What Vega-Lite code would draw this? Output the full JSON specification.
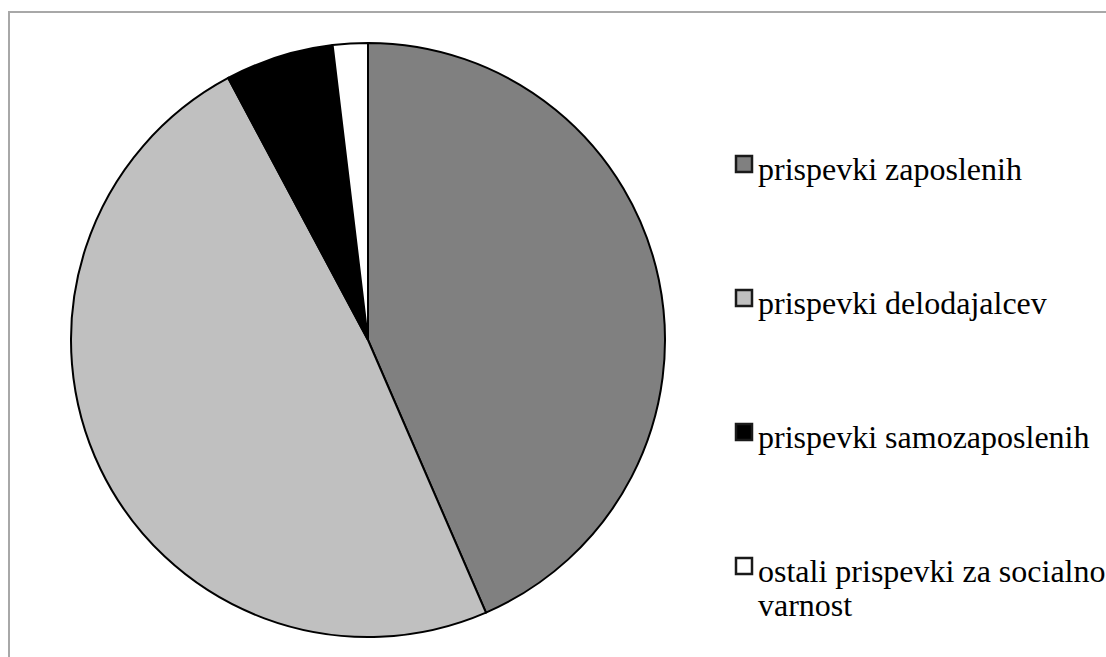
{
  "$schema": "https://vega.github.io/schema/vega-lite/v6.json",
  "autosize": "none",
  "width": 1100,
  "height": 648,
  "padding": {"left": 9, "top": 12, "right": -3, "bottom": -3},
  "background": "white",
  "view": {"stroke": "#a8a8a8", "strokeWidth": 2, "fill": "white"},
  "config": {
    "view": {"stroke": "#a8a8a8", "strokeWidth": 2},
    "legend": {
      "labelFont": "Liberation Serif",
      "labelFontSize": 32,
      "labelColor": "black",
      "labelLimit": 1000,
      "labelBaseline": "alphabetic",
      "labelOffset": -2,
      "labelLineHeight": 39,
      "symbolType": "square",
      "symbolSize": 256,
      "symbolStrokeColor": "#1a1a1a",
      "symbolStrokeWidth": 2.5,
      "rowPadding": 96,
      "padding": 0
    }
  },
  "data": {
    "values": [
      {"kategorija": "prispevki zaposlenih", "delez": 43.5, "red": 1},
      {"kategorija": "prispevki delodajalcev", "delez": 48.7, "red": 2},
      {"kategorija": "prispevki samozaposlenih", "delez": 5.9, "red": 3},
      {"kategorija": "ostali prispevki za socialno varnost", "delez": 1.9, "red": 4}
    ]
  },
  "mark": {"type": "arc", "stroke": "black", "strokeWidth": 2, "radius": 297, "x": 359, "y": 328},
  "encoding": {
    "theta": {"field": "delez", "type": "quantitative", "stack": true},
    "order": {"field": "red", "type": "quantitative"},
    "color": {
      "field": "kategorija",
      "type": "nominal",
      "sort": null,
      "scale": {
        "domain": ["prispevki zaposlenih", "prispevki delodajalcev", "prispevki samozaposlenih", "ostali prispevki za socialno varnost"],
        "range": ["#808080", "#c0c0c0", "#000000", "#ffffff"]
      },
      "legend": {
        "title": null,
        "orient": "none",
        "legendX": 719,
        "legendY": 136,
        "labelExpr": "datum.label == 'ostali prispevki za socialno varnost' ? ['ostali prispevki za socialno', 'varnost'] : datum.label",
        "encode": {"labels": {"update": {"dy": {"value": 16}}}}
      }
    }
  }
}
